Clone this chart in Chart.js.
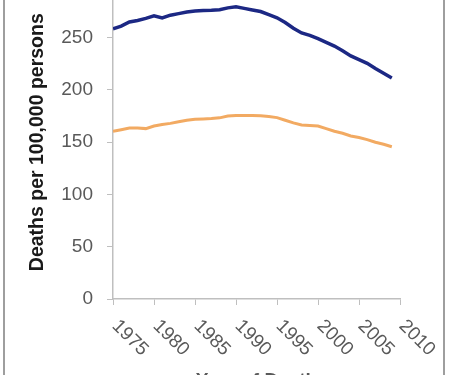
<!DOCTYPE html>
<html>
<head>
<meta charset="utf-8">
<script src="https://cdn.jsdelivr.net/npm/chart.js@4/dist/chart.umd.min.js"></script>
<style>
    html, body { margin: 0; padding: 0; background: #fff; overflow: hidden; }
    #wrap { position: relative; width: 450px; height: 375px; overflow: hidden; background: #fff; }
    #mainChart { position: absolute; left: 0; top: -40px; z-index: 1; }
    #frame { position: absolute; left: 3px; top: -10px; width: 438px; height: 400px; border: 2px solid #9e9e9e; z-index: 2; pointer-events: none; }
</style>
</head>
<body>
<div id="wrap">
    <canvas id="mainChart" width="450" height="450"></canvas>
    <div id="frame"></div>
</div>
<script>
/*
    Death rates chart
*/
var years = [1975, 1976, 1977, 1978, 1979, 1980, 1981, 1982, 1983, 1984,
             1985, 1986, 1987, 1988, 1989, 1990, 1991, 1992, 1993, 1994,
             1995, 1996, 1997, 1998, 1999, 2000, 2001, 2002, 2003, 2004,
             2005, 2006, 2007, 2008, 2009];

var menRates = [258.5, 261, 265, 266.5, 268.5, 271, 268.8, 271.5, 273, 274.5,
                275.5, 276, 276.3, 276.8, 278.5, 279.5, 278, 276.5, 275, 272,
                269, 264.5, 259, 254.5, 252.2, 249, 245.5, 242, 237.5, 232.5,
                229, 225.5, 220.5, 216, 211.5];

var womenRates = [160.5, 162, 163.5, 163.5, 163, 165.5, 167, 168, 169.5, 171,
                  172, 172.3, 172.7, 173.3, 175, 175.5, 175.5, 175.5, 175.2, 174.5,
                  173.5, 171, 168.5, 166.5, 166, 165.5, 163, 160.5, 158.5, 156,
                  154.5, 152.5, 150, 148, 145.7];

var xTickLabels = ['1975', '1980', '1985', '1990', '1995', '2000', '2005', '2010'];

function toPoints(values){
    return values.map((v, i) => ({x: years[i], y: v}));
}

// x labels slanted downwards to the right, like the original
var slantedLabels = {
    id: 'slantedLabels',
    afterDraw(chart){
        var scale = chart.scales.x;
        var ctx = chart.ctx;
        ctx.save();
        ctx.font = '19px "Liberation Sans", Arial, sans-serif';
        ctx.fillStyle = '#595959';
        ctx.textAlign = 'left';
        ctx.textBaseline = 'middle';
        for(var i = 0; i < xTickLabels.length; i++){
            var x = scale.getPixelForValue(Number(xTickLabels[i]));
            ctx.save();
            ctx.translate(x + 2, scale.top + 24);
            ctx.rotate(Math.PI / 4);
            ctx.fillText(xTickLabels[i], 0, 0);
            ctx.restore();
        }
        ctx.restore();
    }
};

var ctx = document.getElementById('mainChart');

var config = {
    type: 'line',
    data: {
        datasets: [
            {
                label: 'Men',
                data: toPoints(menRates),
                borderColor: '#1c2884',
                borderWidth: 3.5,
            },
            {
                label: 'Women',
                data: toPoints(womenRates),
                borderColor: '#f2aa62',
                borderWidth: 3,
            },
        ]
    },
    options: {
        responsive: false,
        animation: false,
        events: [],
        elements: {
            point: { radius: 0 },
            line: { tension: 0 }
        },
        layout: {
            padding: { top: 20, right: 50, bottom: 0, left: 0 }
        },
        plugins: {
            legend: { display: false },
            tooltip: { enabled: false }
        },
        scales: {
            x: {
                type: 'linear',
                min: 1975,
                max: 2010,
                afterFit: function(scale){ scale.height = 111; },
                ticks: {
                    display: false,
                    stepSize: 5
                },
                grid: {
                    drawOnChartArea: false,
                    tickLength: 6,
                    color: '#bfbfbf'
                },
                border: { color: '#bfbfbf', width: 1.5 },
                title: {
                    display: true,
                    text: 'Year of Death',
                    color: '#595959',
                    font: { family: '"Liberation Sans", Arial, sans-serif', size: 19, weight: 'bold' },
                    padding: { top: 0, bottom: 18 }
                }
            },
            y: {
                type: 'linear',
                min: 0,
                max: 300,
                afterFit: function(scale){ scale.width = 113; },
                ticks: {
                    stepSize: 50,
                    padding: 14,
                    color: '#595959',
                    font: { family: '"Liberation Sans", Arial, sans-serif', size: 19 }
                },
                grid: {
                    drawOnChartArea: false,
                    tickLength: 6,
                    color: '#bfbfbf'
                },
                border: { color: '#bfbfbf', width: 1.5 },
                title: {
                    display: true,
                    text: 'Deaths per 100,000 persons',
                    color: '#1a1a1a',
                    font: { family: '"Liberation Sans", Arial, sans-serif', size: 19.5, weight: 'bold' },
                    padding: { top: 26, bottom: 0 }
                }
            }
        }
    },
    plugins: [slantedLabels]
};

new Chart(ctx, config);
</script>
</body>
</html>
